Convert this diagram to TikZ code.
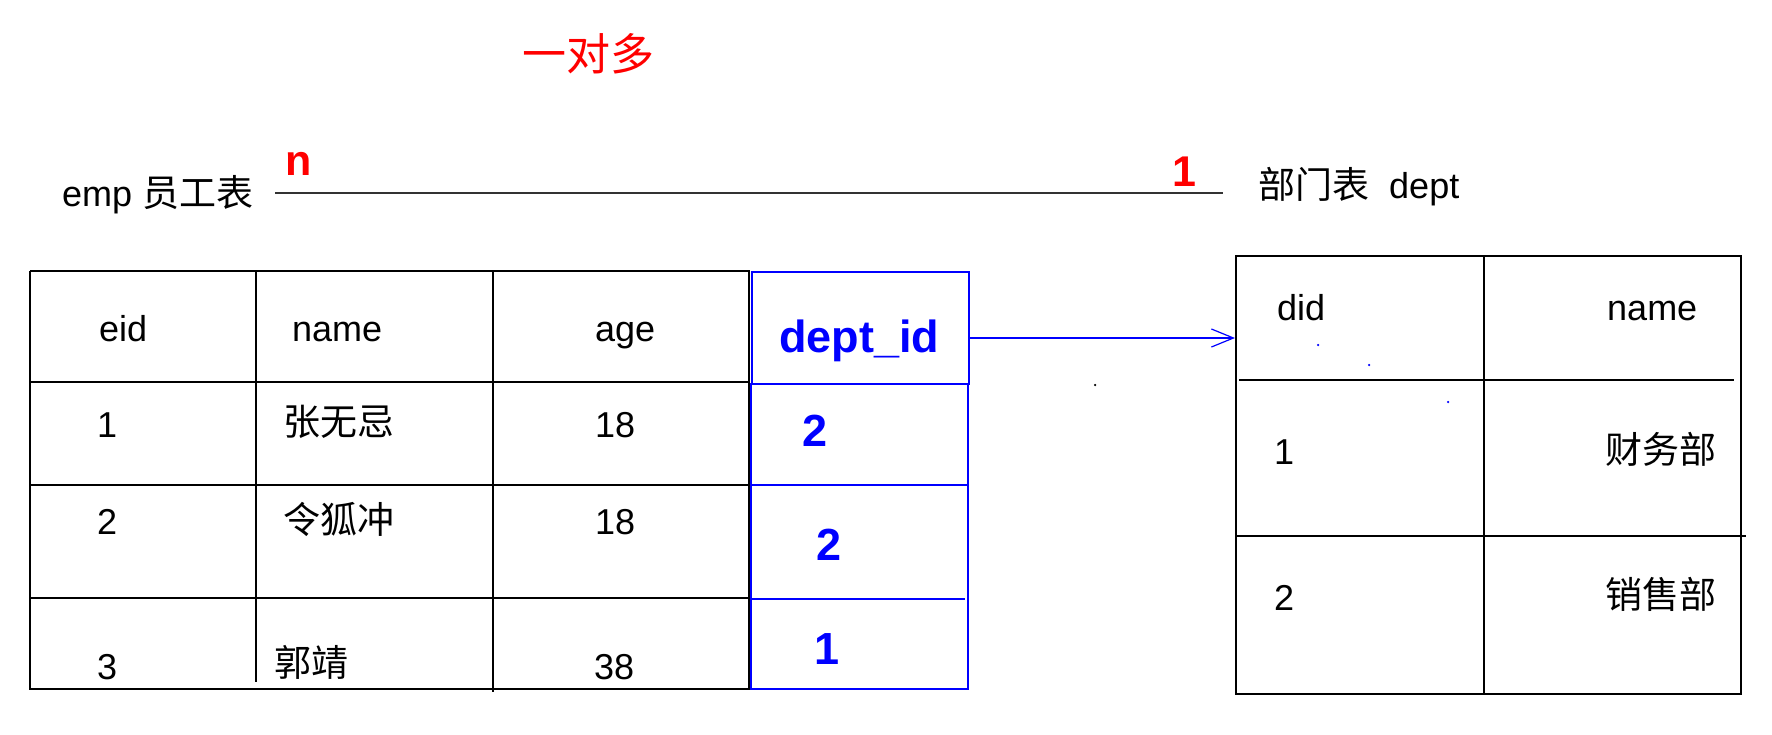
\documentclass[tikz,border=0pt]{standalone}
\usepackage{fontspec}
\setmainfont{Liberation Sans}
\newfontfamily\cjk{Noto Sans CJK SC}
\usetikzlibrary{arrows.meta}
\definecolor{pblue}{RGB}{0,0,255}
\definecolor{pred}{RGB}{255,0,0}
\begin{document}
\begin{tikzpicture}[x=1pt,y=-1pt,
  txt/.style={inner sep=0pt, anchor=base west, font=\fontsize{36}{42}\selectfont},
  ctxt/.style={inner sep=0pt, anchor=base west, font=\fontsize{37}{44}\selectfont\cjk},
  btxt/.style={inner sep=0pt, anchor=base west, font=\fontsize{45}{52}\selectfont\bfseries, text=pblue},
  rtxt/.style={inner sep=0pt, anchor=base west, font=\fontsize{43}{50}\selectfont\bfseries, text=pred},
  gridline/.style={line width=2pt, black},
  bgridline/.style={line width=2pt, pblue},
  fkarrow/.style={line width=2pt, pblue, -{Straight Barb[length=22pt,width=18pt,line width=1.2pt]}},
  dotmark/.style={circle, inner sep=0pt, minimum size=2.5pt}
]
\useasboundingbox (0,0) rectangle (1772,734);
\fill[white] (0,0) rectangle (1772,734);

% title and relation line
\node[inner sep=0pt, anchor=base west, font=\fontsize{44}{52}\selectfont\cjk, text=pred] (title) at (522,70) {一对多};
\node[txt] (emp) at (62,206) {emp {\cjk\fontsize{37}{44}\selectfont 员工表}};
\node[txt] (deptlbl) at (1258,198) {{\cjk\fontsize{37}{44}\selectfont 部门表}\ \ dept};
\node[rtxt] (nlab) at (285,175) {n};
\node[rtxt] (onelab) at (1172,186) {1};
\coordinate (la) at (275,193);
\coordinate (lb) at (1223,193);
\draw[line width=2.5pt, black!80] (la) -- (lb);

% left table (emp)
\draw[gridline] (30,271) -- (750,271);
\draw[gridline] (30,271) -- (30,689) -- (750,689);
\draw[gridline] (30,382) -- (750,382);
\draw[gridline] (30,485) -- (750,485);
\draw[gridline] (30,598) -- (750,598);
\draw[gridline] (256,271) -- (256,682);
\draw[gridline] (493,271) -- (493,692);
\draw[gridline] (749,271) -- (749,689);

% dept_id column
\node[draw=pblue, line width=2pt, minimum width=217pt, minimum height=112pt, inner sep=0pt, anchor=north west] (deptcell) at (751,271) {};
\draw[bgridline] (751,383) -- (751,689) -- (968,689) -- (968,383);
\draw[bgridline] (751,485) -- (968,485);
\draw[bgridline] (751,599) -- (965,599);

% header texts
\node[txt] (h-eid) at (99,341) {eid};
\node[txt] (h-name) at (292,341) {name};
\node[txt] (h-age) at (595,341) {age};
\node[btxt] (h-deptid) at (779,352) {dept\_id};

% rows
\node[txt] (r1-eid) at (97,437) {1};
\node[ctxt] (r1-name) at (283,435) {张无忌};
\node[txt] (r1-age) at (595,437) {18};
\node[btxt] (r1-did) at (802,446) {2};

\node[txt] (r2-eid) at (97,534) {2};
\node[ctxt] (r2-name) at (283,533) {令狐冲};
\node[txt] (r2-age) at (595,534) {18};
\node[btxt] (r2-did) at (816,560) {2};

\node[txt] (r3-eid) at (97,679) {3};
\node[ctxt] (r3-name) at (274,676) {郭靖};
\node[txt] (r3-age) at (594,679) {38};
\node[btxt] (r3-did) at (814,664) {1};

% right table (dept)
\node[draw=black, line width=2pt, minimum width=505pt, minimum height=438pt, inner sep=0pt, anchor=north west] (depttab) at (1235,255) {};
\draw[gridline] (1484,255) -- (1484,693);
\draw[gridline] (1239,380) -- (1734,380);
\draw[gridline] (1235,536) -- (1746,536);

\node[txt] (d-did) at (1277,320) {did};
\node[txt] (d-name) at (1607,320) {name};
\node[txt] (d1-id) at (1274,464) {1};
\node[ctxt] (d1-name) at (1605,463) {财务部};
\node[txt] (d2-id) at (1274,610) {2};
\node[ctxt] (d2-name) at (1605,608) {销售部};

% foreign key arrow
\draw[fkarrow] ([yshift=-10pt]deptcell.east) -- ([yshift=-10pt]deptcell.east -| depttab.west);

% stray dots
\node[dotmark, fill=black] (dot1) at (1095,385) {};
\node[dotmark, fill=pblue] (dot2) at (1318,345) {};
\node[dotmark, fill=pblue] (dot3) at (1369,365) {};
\node[dotmark, fill=pblue] (dot4) at (1448,402) {};
\end{tikzpicture}
\end{document}
